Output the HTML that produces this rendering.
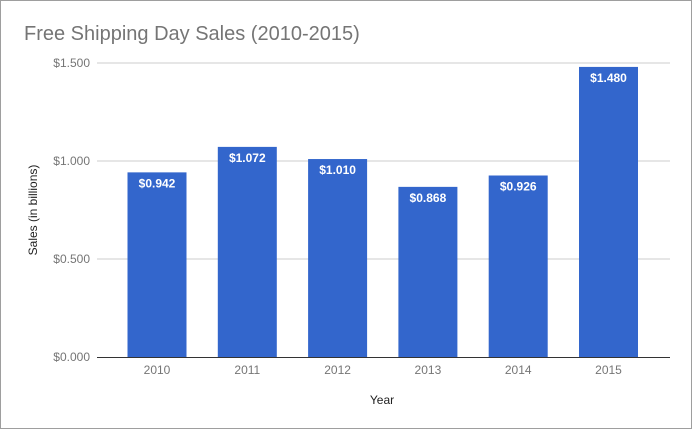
<!DOCTYPE html>
<html><head><meta charset="utf-8"><style>
body{margin:0;background:#fff}
svg{display:block;font-family:"Liberation Sans",Roboto,sans-serif}
</style></head><body>
<svg id="c" width="693" height="430">
<rect x="0.5" y="0.5" width="691" height="428" fill="#fff" stroke="#9e9e9e"/>
<text x="24" y="40" font-size="20" fill="#757575">Free Shipping Day Sales (2010-2015)</text>
<text transform="translate(37,210) rotate(-90)" text-anchor="middle" font-size="12" fill="#222">Sales (in billions)</text>
<text x="382" y="404" text-anchor="middle" font-size="12" fill="#222">Year</text>
<g id="grid"></g><g id="bars"></g>
</svg>
<script>
const categories=["2010","2011","2012","2013","2014","2015"];
const sales=[0.942,1.072,1.010,0.868,0.926,1.480];
const yTicks=[0,0.5,1.0,1.5];
const ns="http://www.w3.org/2000/svg";
const y=v=>357-v*196;
const x=i=>157+i*90.3;
const g=document.getElementById("grid"),b=document.getElementById("bars");
function mk(t,a,p){const e=document.createElementNS(ns,t);for(const k in a)e.setAttribute(k,a[k]);p.appendChild(e);return e;}
yTicks.forEach(t=>{
 if(t>0){const l=mk("line",{x1:97,x2:670,y1:y(t),y2:y(t),stroke:"#ccc"},g);
 
 }
 const tx=mk("text",{x:90,y:y(t)+4,"text-anchor":"end","font-size":12,fill:"#757575"},g);
 tx.textContent="$"+t.toFixed(3);
 
 
});
categories.forEach((c,i)=>{
 const r=mk("rect",{x:x(i)-29.5,y:y(sales[i]),width:59,height:357-y(sales[i]),fill:"#3366cc"},b);
 
 
 const v=mk("text",{x:x(i),y:y(sales[i])+15,"text-anchor":"middle","font-size":12,"font-weight":"bold",fill:"#fff"},b);
 v.textContent="$"+sales[i].toFixed(3);
 
 
 const l=mk("text",{x:x(i),y:374,"text-anchor":"middle","font-size":12,fill:"#757575"},b);
 l.textContent=c;
 
 
});
const base=mk("line",{x1:97,x2:670,y1:357.5,y2:357.5,stroke:"#333"},b);


</script>
</body></html>
